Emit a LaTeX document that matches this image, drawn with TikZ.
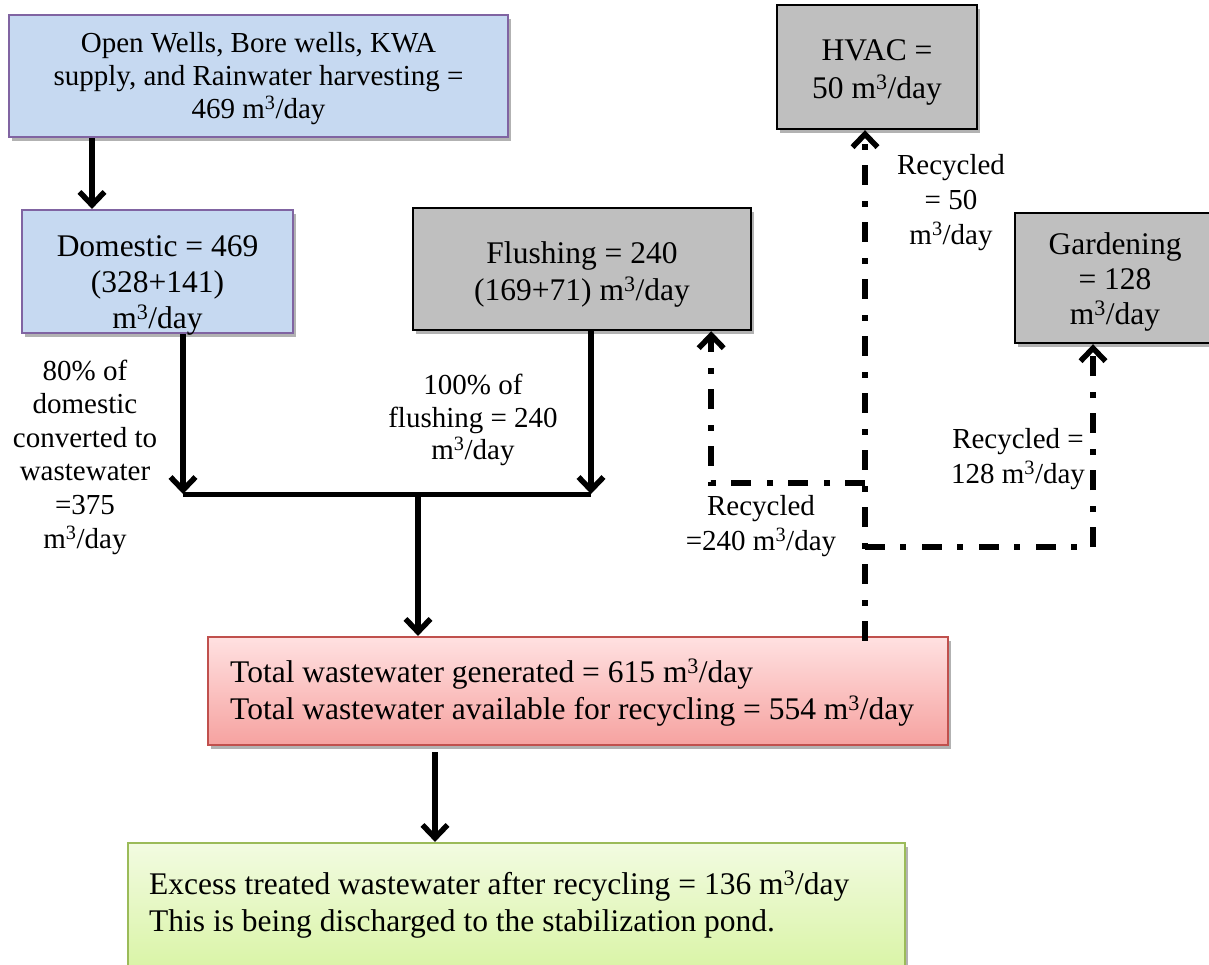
\documentclass[tikz,border=0pt]{standalone}
\usepackage{fontspec}
\setmainfont{Liberation Serif}
\usetikzlibrary{arrows.meta,shadows}

\begin{document}
\begin{tikzpicture}[x=1pt,y=1pt,yscale=-1,xscale=1,
  boxshadow/.style={drop shadow={shadow xshift=2.5pt,shadow yshift=-3.5pt,fill=black,opacity=0.3}},
  bluebox/.style={draw={rgb,255:red,128;green,100;blue,162},line width=2.2pt,fill={rgb,255:red,198;green,217;blue,241},boxshadow,inner sep=0pt},
  greybox/.style={draw=black,line width=2.4pt,fill={rgb,255:red,191;green,191;blue,191},boxshadow,inner sep=0pt},
  pinkbox/.style={draw={rgb,255:red,192;green,80;blue,77},line width=2.2pt,top color={rgb,255:red,255;green,225;blue,225},bottom color={rgb,255:red,246;green,162;blue,160},boxshadow,inner sep=0pt},
  limebox/.style={draw={rgb,255:red,155;green,187;blue,89},line width=2.2pt,top color={rgb,255:red,242;green,251;blue,225},bottom color={rgb,255:red,214;green,243;blue,158},boxshadow,inner sep=0pt},
  boxtext/.style={align=center,inner sep=0pt,font=\fontsize{31.5}{36.5}\selectfont},
  labeltext/.style={align=center,inner sep=0pt,font=\fontsize{29}{34}\selectfont},
  flow/.style={line width=5.5pt,-{Straight Barb[length=13pt,width=25pt]}},
  recycle/.style={line width=5.5pt,dash pattern=on 20pt off 15pt on 6pt off 16pt,-{Straight Barb[length=13pt,width=25pt]}}
]
\useasboundingbox (0,0) rectangle (1209,964);

%Shape: Rectangle [sources]
\node[bluebox,minimum width=499pt,minimum height=122pt] (source) at (258.5,76) {};
%Shape: Rectangle [domestic]
\node[bluebox,minimum width=271pt,minimum height=123pt] (domestic) at (157.5,271.5) {};
%Shape: Rectangle [flushing]
\node[greybox,minimum width=338pt,minimum height=122pt] (flushing) at (582,269) {};
%Shape: Rectangle [hvac]
\node[greybox,minimum width=200pt,minimum height=124pt] (hvac) at (877,67) {};
%Shape: Rectangle [gardening]
\node[greybox,minimum width=200pt,minimum height=130pt] (garden) at (1115,278) {};
%Shape: Rectangle [total wastewater]
\node[pinkbox,minimum width=740pt,minimum height=108pt] (total) at (578,691) {};
%Shape: Rectangle [excess]
\node[limebox,minimum width=777pt,minimum height=144pt] (excess) at (516.5,915) {};

% end points of the connectors
\coordinate (domin) at ([xshift=-65.5pt]domestic.north);
\coordinate (domout) at ([xshift=25.5pt]domestic.south);
\coordinate (flushout) at ([xshift=9pt]flushing.south);
\coordinate (mergeL) at (183,494);
\coordinate (mergeR) at (591,494);
\coordinate (mergeM) at (418,494);
\coordinate (totalout) at (435,752);
\coordinate (hvacin) at ([xshift=-12pt]hvac.south);
\coordinate (flushin) at ([xshift=-41pt]flushing.south east);
\coordinate (gardenin) at ([xshift=-22pt]garden.south);
\coordinate (tapa) at (865,483);
\coordinate (tapb) at (865,547);

%Straight Lines
\draw[flow] (domin |- source.south) -- (domin);
\draw[flow] (domout) -- (mergeL);
\draw[flow] (flushout) -- (mergeR);
\draw[line width=5pt] (mergeL) -- (mergeR);
\draw[flow] (mergeM) -- (mergeM |- total.north);
\draw[flow] (totalout) -- (totalout |- excess.north);
%Recycled water lines
\draw[recycle] ([yshift=5pt]hvacin |- total.north) -- (hvacin);
\draw[recycle] (tapa) -- (flushin |- tapa) -- (flushin);
\draw[recycle] (tapb) -- (gardenin |- tapb) -- (gardenin);

% Text Node
\node[boxtext,font=\fontsize{29}{33}\selectfont] (sourcetxt) at (258.5,79) {Open Wells, Bore wells, KWA\\supply, and Rainwater harvesting =\\469 m\textsuperscript{3}/day};
% Text Node
\begin{scope}
\clip (domestic.north west) rectangle ([yshift=14pt]domestic.south east);
\node[boxtext,font=\fontsize{31.5}{36}\selectfont] (domestictxt) at (157.5,285) {Domestic = 469\\(328+141)\\m\textsuperscript{3}/day};
\end{scope}
% Text Node
\node[boxtext,font=\fontsize{31.5}{37}\selectfont] (flushingtxt) at (582,274) {Flushing = 240\\(169+71) m\textsuperscript{3}/day};
% Text Node
\node[boxtext,font=\fontsize{31.5}{38}\selectfont] (hvactxt) at (877,72) {HVAC =\\50 m\textsuperscript{3}/day};
% Text Node
\node[boxtext,font=\fontsize{31.5}{35}\selectfont] (gardentxt) at (1115,282) {Gardening\\= 128\\m\textsuperscript{3}/day};
% Text Node
\node[boxtext,align=left,anchor=west,font=\fontsize{31.5}{37}\selectfont] (totaltxt) at (230,692.5) {Total wastewater generated = 615 m\textsuperscript{3}/day\\Total wastewater available for recycling = 554 m\textsuperscript{3}/day};
% Text Node
\node[boxtext,align=left,anchor=west,font=\fontsize{31.5}{37}\selectfont] (excesstxt) at (149,904.5) {Excess treated wastewater after recycling = 136 m\textsuperscript{3}/day\\This is being discharged to the stabilization pond.};
% Text Node
\node[labeltext,font=\fontsize{29}{33.6}\selectfont] (domlabel) at (85,457) {80\% of\\domestic\\converted to\\wastewater\\=375\\m\textsuperscript{3}/day};
% Text Node
\node[labeltext,font=\fontsize{29}{32.5}\selectfont] (flushlabel) at (473,420) {100\% of\\flushing = 240\\m\textsuperscript{3}/day};
% Text Node
\node[labeltext,font=\fontsize{29}{35}\selectfont] (rectwo) at (761,526) {Recycled\\=240 m\textsuperscript{3}/day};
% Text Node
\node[labeltext,font=\fontsize{29}{35}\selectfont] (recone) at (1018,459) {Recycled =\\128 m\textsuperscript{3}/day};
% Text Node
\node[labeltext,font=\fontsize{29}{35}\selectfont] (recfifty) at (951,203) {Recycled\\= 50\\m\textsuperscript{3}/day};

\end{tikzpicture}
\end{document}
